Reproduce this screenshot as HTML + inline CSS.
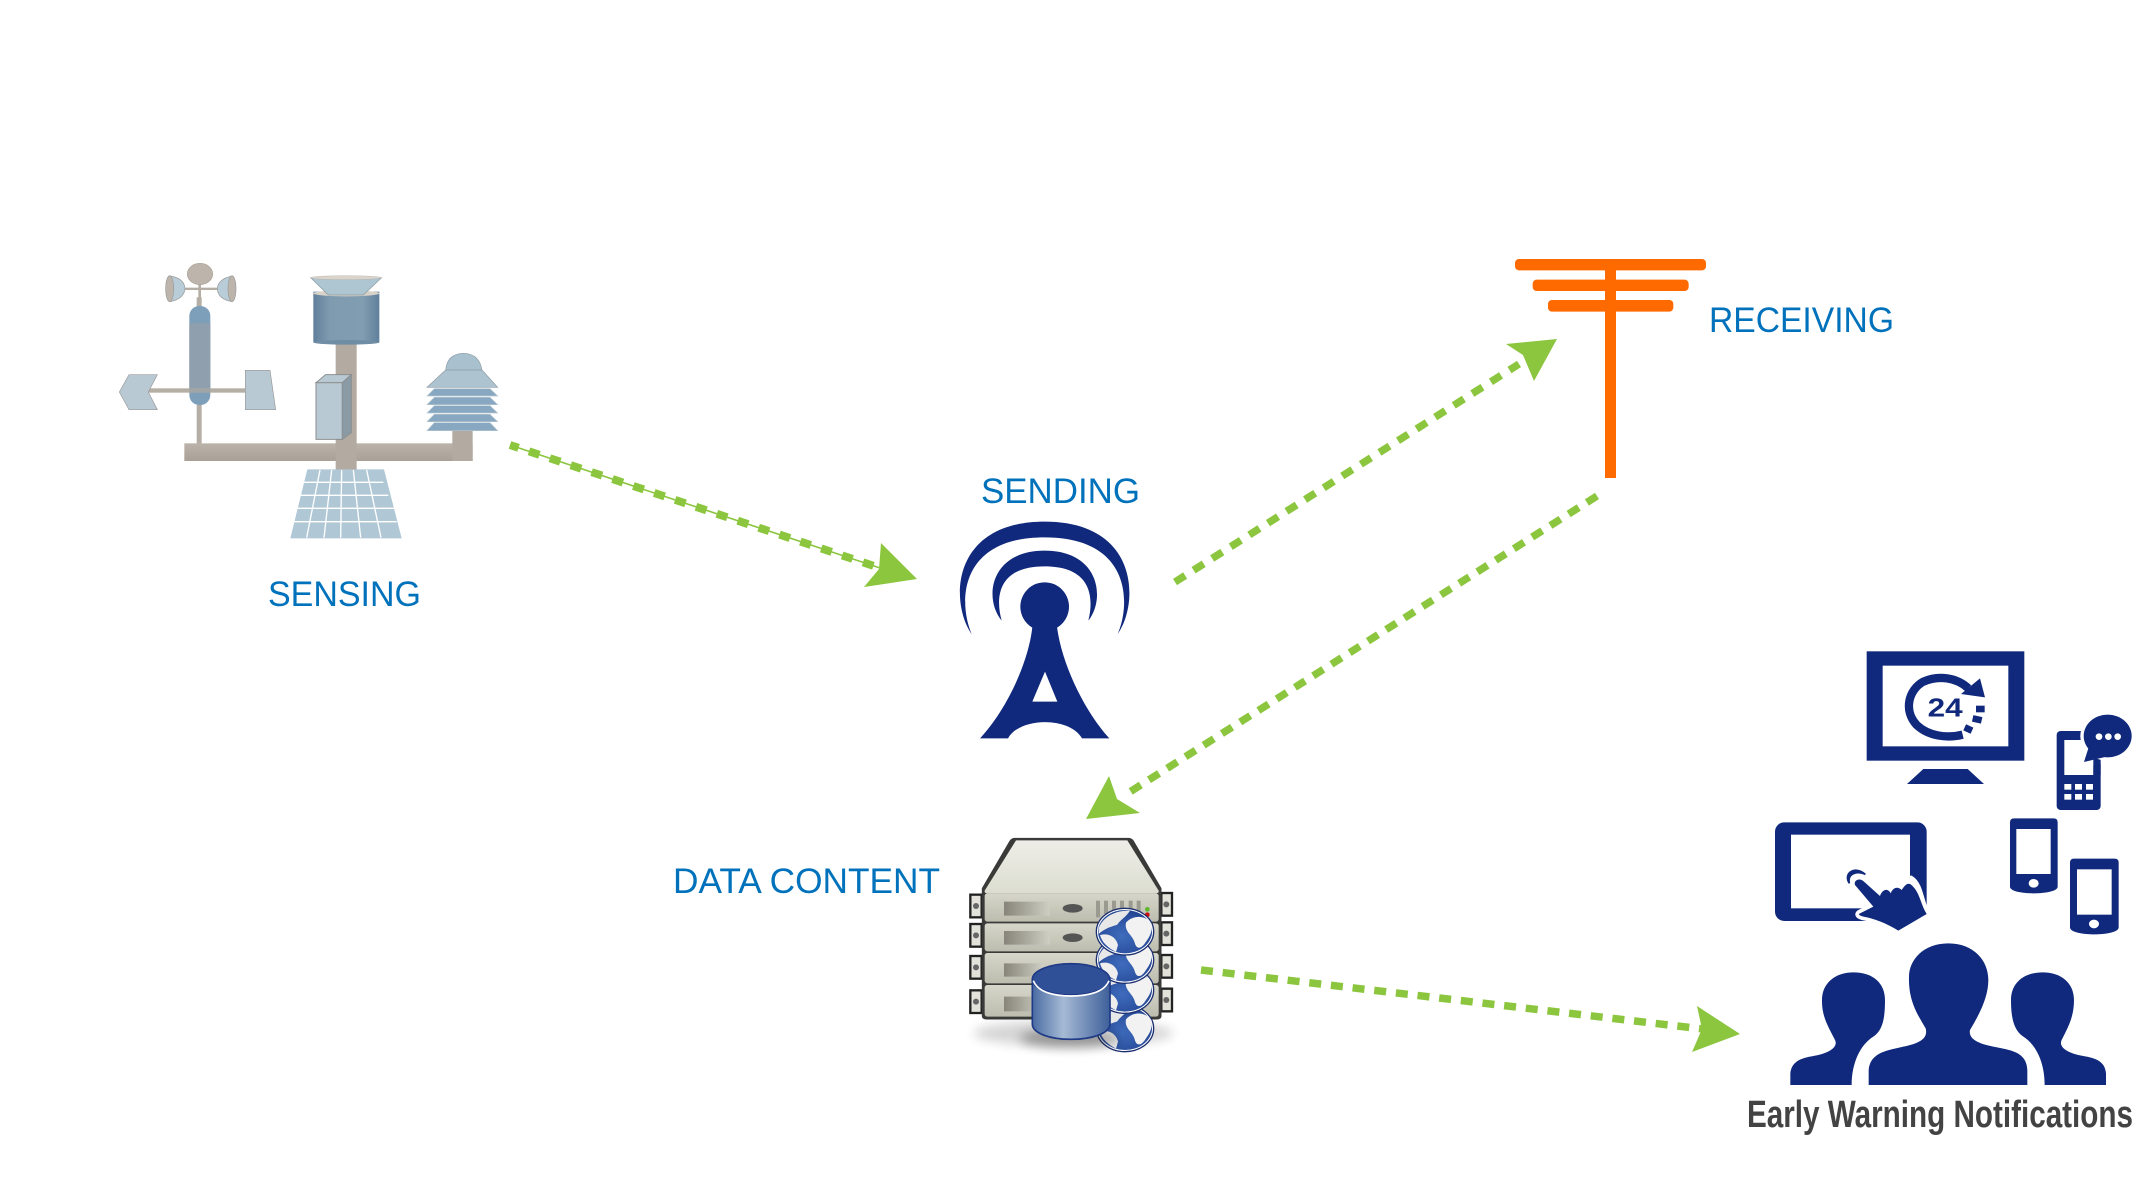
<!DOCTYPE html>
<html><head><meta charset="utf-8"><title>Early Warning System</title>
<style>html,body{margin:0;padding:0;background:#fff}svg{display:block}
.l{font-family:"Liberation Sans",sans-serif;fill:#0072bc;font-size:35.5px}</style></head>
<body>
<svg width="2150" height="1190" viewBox="0 0 2150 1190" xmlns="http://www.w3.org/2000/svg">
<defs>
<linearGradient id="gb" x1="0" x2="1" y1="0" y2="0"><stop offset="0" stop-color="#5f7f9b"/><stop offset=".25" stop-color="#7f9bb0"/><stop offset=".75" stop-color="#819db1"/><stop offset="1" stop-color="#5f7f9b"/></linearGradient>
<linearGradient id="gc" x1="0" x2="1" y1="0" y2="0"><stop offset="0" stop-color="#4a6ba3"/><stop offset=".4" stop-color="#a5bad4"/><stop offset="1" stop-color="#3e5f9a"/></linearGradient>
<linearGradient id="gs" x1="0" x2="0" y1="0" y2="1"><stop offset="0" stop-color="#eeeee8"/><stop offset="1" stop-color="#dcddd0"/></linearGradient>
<linearGradient id="gu" x1="0" x2="0" y1="0" y2="1"><stop offset="0" stop-color="#d6d6ca"/><stop offset="1" stop-color="#bcbcaf"/></linearGradient>
<linearGradient id="gl" x1="0" x2="1" y1="0" y2="0"><stop offset="0" stop-color="#87857a"/><stop offset="1" stop-color="#cfcfc4"/></linearGradient>
<linearGradient id="gp" x1="0" x2="0" y1="0" y2="1"><stop offset="0" stop-color="#bbb3aa"/><stop offset="1" stop-color="#a9a198"/></linearGradient>
<radialGradient id="gg" cx=".45" cy=".6" r=".7"><stop offset="0" stop-color="#3f6cbd"/><stop offset="1" stop-color="#1f3f8c"/></radialGradient>
<filter id="bl" x="-30%" y="-60%" width="160%" height="220%"><feGaussianBlur stdDeviation="16"/></filter>
<g id="globe">
<ellipse cx="495" cy="335" rx="86" ry="70" fill="#fff" stroke="#1b2f70" stroke-width="4"/>
<ellipse cx="495" cy="335" rx="81" ry="65" fill="url(#gg)"/>
<path d="M416,325C428,292 465,270 510,272C498,292 482,298 472,314C456,320 440,322 416,342Z" fill="#e8e8e8"/>
<path d="M420,345C445,338 468,350 474,375L468,396C445,384 426,368 420,345Z" fill="#eee"/>
<path d="M498,308C518,284 558,284 575,312C578,335 568,352 556,368C546,384 530,392 524,368C518,345 492,335 498,308Z" fill="#f2f2f2"/>
</g>
</defs>
<rect width="2150" height="1190" fill="#fff"/>

<!-- Sensing -->
<g transform="translate(100,240) scale(.33333)">
<rect x="290" y="495" width="15" height="120" fill="#b5aea5"/>
<rect x="253" y="610" width="865" height="53" fill="url(#gp)"/>
<rect x="1057" y="565" width="61" height="98" fill="#b3aba2"/>
<rect x="707" y="312" width="63" height="378" fill="#b3aba2"/>
<rect x="295" y="130" width="8" height="45" fill="#b5aea5"/>
<rect x="290" y="172" width="15" height="30" fill="#b5aea5"/>
<rect x="250" y="143" width="105" height="7" fill="#b5aea5"/>
<ellipse cx="300" cy="102" rx="38" ry="32" fill="#bdb5ab" stroke="#a8a096" stroke-width="2"/>
<path d="M210,108Q255,115 255,148Q250,178 210,185Z" fill="#b8cdd8" stroke="#999" stroke-width="2"/>
<ellipse cx="209" cy="146" rx="12" ry="39" fill="#bdb5ab" stroke="#999" stroke-width="2"/>
<path d="M396,108Q352,118 352,148Q355,178 396,185Z" fill="#b8cdd8" stroke="#999" stroke-width="2"/>
<ellipse cx="396" cy="146" rx="12" ry="39" fill="#bdb5ab" stroke="#999" stroke-width="2"/>
<rect x="268" y="198" width="63" height="297" rx="30" fill="#7d9fb9"/>
<rect x="268" y="250" width="63" height="195" fill="#8f9fad"/>
<rect x="145" y="445" width="292" height="13" fill="#b5aea5"/>
<rect x="268" y="445" width="63" height="13" fill="#a2a5a5"/>
<polygon points="58,456 87,404 172,404 145,456 172,509 87,509" fill="#b8c9d3" stroke="#999" stroke-width="2"/>
<polygon points="436,391 510,391 527,509 436,509" fill="#b8c9d3" stroke="#999" stroke-width="2"/>
<rect x="640" y="155" width="198" height="152" fill="url(#gb)"/>
<ellipse cx="739" cy="307" rx="99" ry="7" fill="#6f8ea6"/>
<ellipse cx="739" cy="160" rx="99" ry="9" fill="#d8d2c8"/>
<polygon points="632,113 845,113 790,165 685,165" fill="#aec6d2" stroke="#8c9aa3" stroke-width="2"/>
<ellipse cx="738" cy="113" rx="106" ry="6" fill="#dad4ca" stroke="#aaa" stroke-width="1"/>
<polygon points="648,428 727,428 727,598 648,598" fill="#b8c9d3" stroke="#8c8f90" stroke-width="3"/>
<polygon points="648,428 677,404 754,404 727,428" fill="#b8c9d3" stroke="#8c8f90" stroke-width="3"/>
<polygon points="727,428 754,404 754,578 727,598" fill="#8a9ba6" stroke="#8c8f90" stroke-width="3"/>
<path d="M1037,392Q1040,342 1090,340Q1140,342 1146,392Z" fill="#a9c0cf" stroke="#8c9aa3" stroke-width="2"/>
<polygon points="1037,390 1146,390 1193,442 981,442" fill="#aec3d0" stroke="#8c9aa3" stroke-width="2"/>
<g fill="#88a8c2" stroke="#b8c6cf" stroke-width="2">
<polygon points="1003,446 1170,446 1193,468 981,468"/>
<polygon points="1003,472 1170,472 1193,494 981,494"/>
<polygon points="1003,497 1170,497 1193,519 981,519"/>
<polygon points="1003,523 1170,523 1193,545 981,545"/>
<polygon points="1003,548 1170,548 1193,572 981,572"/>
</g>
<polygon points="622,688 852,688 905,895 571,895" fill="#b0c8d6"/>
<g stroke="#fff" stroke-width="4" fill="none">
<path d="M612,727H850M602,766H865M592,805H885M581,845H890"/>
<path d="M660,690L620,893M695,690L672,893M725,690L722,893M760,690L782,893M800,690L843,893"/>
</g>
</g>
<text class="l" x="268" y="606" textLength="153" lengthAdjust="spacingAndGlyphs">SENSING</text>

<!-- Sending -->
<text class="l" x="981" y="503" textLength="159" lengthAdjust="spacingAndGlyphs">SENDING</text>
<g transform="translate(940,460) scale(.33333)" fill="#10297d">
<path d="M95,522C30,430 30,185 314,185C598,185 598,430 533,522C573,430 573,232 314,232C55,232 55,430 95,522Z"/>
<path d="M185,482C130,415 150,272 314,272C478,272 498,415 445,482C463,410 453,319 314,319C175,319 165,410 185,482Z"/>
<circle cx="314" cy="440" r="73"/>
<path d="M278,490C270,600 200,750 120,835L204,835C240,770 390,770 426,835L508,835C430,750 360,600 350,490Z"/>
<polygon points="315,635 352,725 277,725" fill="#fff"/>
</g>

<!-- Receiving -->
<g transform="translate(1480,240) scale(.33333)" fill="#ff6a00">
<rect x="105" y="57" width="573" height="34" rx="12"/>
<rect x="158" y="119" width="468" height="34" rx="12"/>
<rect x="204" y="180" width="376" height="35" rx="12"/>
<rect x="375" y="57" width="33" height="657"/>
</g>
<text class="l" x="1709" y="332" textLength="185" lengthAdjust="spacingAndGlyphs">RECEIVING</text>

<!-- Data content -->
<text class="l" x="673" y="893" textLength="267" lengthAdjust="spacingAndGlyphs">DATA CONTENT</text>
<g transform="translate(960,820) scale(.33333)">
<ellipse cx="340" cy="640" rx="300" ry="40" fill="#000" opacity=".16" filter="url(#bl)"/>
<g fill="#e2e2da" stroke="#222" stroke-width="7">
<rect x="31" y="224" width="34" height="68"/><rect x="31" y="312" width="34" height="68"/><rect x="31" y="408" width="34" height="68"/><rect x="31" y="511" width="34" height="68"/>
<rect x="604" y="219" width="32" height="68"/><rect x="604" y="307" width="32" height="68"/><rect x="604" y="405" width="32" height="68"/><rect x="604" y="506" width="32" height="68"/>
</g>
<g fill="#666"><circle cx="48" cy="258" r="9"/><circle cx="48" cy="346" r="9"/><circle cx="48" cy="442" r="9"/><circle cx="48" cy="545" r="9"/><circle cx="619" cy="253" r="9"/><circle cx="619" cy="341" r="9"/><circle cx="619" cy="439" r="9"/><circle cx="619" cy="540" r="9"/></g>
<path d="M165,55L505,55Q515,55 520,63L603,205L603,588Q603,597 590,597L80,597Q67,597 67,588L67,205L150,63Q155,55 165,55Z" fill="#3a3a38" stroke="#3a3a38" stroke-width="3"/>
<path d="M168,61L502,61L596,212Q598,220 586,220L84,220Q72,220 74,212Z" fill="url(#gs)"/>
<rect x="74" y="220" width="522" height="85" rx="8" fill="url(#gu)"/>
<rect x="74" y="310" width="522" height="84" rx="8" fill="url(#gu)"/>
<rect x="74" y="399" width="522" height="91" rx="8" fill="url(#gu)"/>
<rect x="74" y="495" width="522" height="95" rx="8" fill="url(#gu)"/>
<polygon points="132,245 265,245 270,287 132,287" fill="url(#gl)"/>
<polygon points="132,333 270,333 270,374 132,374" fill="url(#gl)"/>
<polygon points="132,430 250,430 250,470 132,470" fill="url(#gl)"/>
<polygon points="132,530 250,530 250,574 132,574" fill="url(#gl)"/>
<ellipse cx="338" cy="265" rx="30" ry="13" fill="#555"/>
<ellipse cx="338" cy="353" rx="30" ry="13" fill="#555"/>
<g fill="#9a9a90"><rect x="408" y="242" width="12" height="50"/><rect x="432" y="242" width="12" height="40"/><rect x="456" y="242" width="12" height="30"/><rect x="480" y="242" width="12" height="25"/><rect x="506" y="242" width="12" height="25"/><rect x="530" y="242" width="12" height="30"/></g>
<circle cx="562" cy="268" r="7" fill="#5cb82e"/><circle cx="562" cy="284" r="7" fill="#d01010"/>
<use href="#globe" y="290"/>
<use href="#globe" y="175"/>
<use href="#globe" y="85"/>
<use href="#globe"/>
<ellipse cx="330" cy="655" rx="150" ry="28" fill="#000" opacity=".3" filter="url(#bl)"/>
<path d="M217,478V612C217,640 270,658 333,658C396,658 450,640 450,612V478Z" fill="url(#gc)" stroke="#1f3a86" stroke-width="5"/>
<ellipse cx="333" cy="478" rx="116" ry="47" fill="#2f4f96" stroke="#1f3a86" stroke-width="5"/>
<path d="M220,482C235,520 290,528 333,528C376,528 432,520 447,482" fill="none" stroke="#fff" stroke-width="5"/>
</g>

<!-- Devices -->
<g transform="translate(1760,640) scale(.33333)" fill="#10297d">
<rect x="320" y="34" width="473" height="328"/>
<rect x="368" y="77" width="377" height="242" fill="#fff"/>
<polygon points="490,387 623,387 672,432 441,432"/>
<path d="M608,284C560,296 505,288 470,255C430,212 445,150 490,125C535,105 590,112 625,145" fill="none" stroke="#10297d" stroke-width="25"/>
<polygon points="603,162 660,115 675,172"/>
<text x="503" y="229" font-family="Liberation Sans,sans-serif" font-weight="700" font-size="78" textLength="105" lengthAdjust="spacingAndGlyphs">24</text>
<g fill="none" stroke="#10297d" stroke-width="20"><path d="M648,207H674"/><path d="M638,235L665,241"/><path d="M614,262L636,272"/></g>
<rect x="890" y="273" width="132" height="237" rx="12"/>
<rect x="913" y="300" width="87" height="105" fill="#fff"/>
<ellipse cx="1043" cy="288" rx="82" ry="74" fill="#fff"/>
<polygon points="1000,378 1022,372 1022,405 1000,405"/>
<ellipse cx="1043" cy="288" rx="72" ry="64"/>
<polygon points="985,325 972,366 1040,350"/>
<g fill="#fff"><circle cx="1017" cy="290" r="10"/><circle cx="1045" cy="290" r="10"/><circle cx="1073" cy="290" r="10"/>
<rect x="913" y="432" width="21" height="17"/><rect x="945" y="432" width="21" height="17"/><rect x="978" y="432" width="21" height="17"/>
<rect x="913" y="462" width="21" height="17"/><rect x="945" y="462" width="21" height="17"/><rect x="978" y="462" width="21" height="17"/></g>
<path d="M762,535H881Q893,535 893,547V740C893,755 850,760 821,760C790,760 750,755 750,740V547Q750,535 762,535Z"/>
<rect x="769" y="567" width="103" height="135" fill="#fff"/><ellipse cx="821" cy="730" rx="15" ry="13" fill="#fff"/>
<path d="M942,656H1064Q1076,656 1076,668V862C1076,877 1035,883 1003,883C970,883 930,877 930,862V668Q930,656 942,656Z"/>
<rect x="951" y="688" width="104" height="136" fill="#fff"/><ellipse cx="1002" cy="852" rx="15" ry="13" fill="#fff"/>
<rect x="45" y="547" width="455" height="296" rx="28"/>
<rect x="93" y="584" width="357" height="221" fill="#fff"/>
<path d="M300,820L340,800L285,735C280,720 300,712 312,725L360,770C370,745 385,750 392,755C400,740 415,740 425,745C435,730 445,718 452,718C480,735 480,790 500,822L415,872C380,850 340,835 310,830C295,826 295,822 300,820Z" fill="#fff" stroke="#fff" stroke-width="22"/>
<path d="M300,820L340,800L285,735C280,720 300,712 312,725L360,768C368,745 385,745 392,760C400,740 415,740 425,750C435,735 442,728 452,733C480,755 480,790 500,822L415,872C380,850 340,835 310,830C295,826 295,822 300,820Z"/>
<path d="M268,730C248,700 285,675 316,703C290,692 262,700 268,730Z" stroke="#10297d" stroke-width="5"/>
</g>

<!-- People -->
<g transform="translate(1760,930) scale(.33333)" fill="#10297d">
<path d="M565,40C640,40 685,90 685,150C685,200 660,250 630,300C625,325 650,340 700,350C750,360 800,365 802,420V465H326V420C330,365 390,360 430,350C480,340 505,325 497,295C470,250 445,210 447,140C447,90 490,40 565,40Z"/>
<path d="M280,127C340,127 375,160 375,210C375,260 370,300 340,320C300,345 275,400 275,465H91V430C95,395 120,385 160,378C210,370 235,350 225,330C205,290 185,260 186,210C186,160 225,127 280,127Z"/>
<path d="M848,127C905,127 942,160 942,210C942,260 925,290 905,330C895,350 920,370 970,378C1010,385 1035,395 1038,430V465H854C854,400 830,345 790,320C760,300 753,260 753,210C753,160 790,127 848,127Z"/>
</g>
<text x="1747" y="1127" font-family="Liberation Sans,sans-serif" font-weight="700" font-size="38" fill="#434343" textLength="386" lengthAdjust="spacingAndGlyphs">Early Warning Notifications</text>

<!-- Arrows -->
<g fill="none" stroke="#8cc63f">
<line x1="510" y1="445" x2="880" y2="568" stroke-width="1.6"/>
<line x1="510" y1="445" x2="880" y2="568" stroke-width="8" stroke-dasharray="11 11" stroke-dashoffset="2"/>
<line x1="1175" y1="582" x2="1519" y2="364" stroke-width="7.5" stroke-dasharray="12 10"/>
<line x1="1597" y1="496" x2="1125" y2="795" stroke-width="7.5" stroke-dasharray="12 9.6"/>
<line x1="1201" y1="970" x2="1703" y2="1029" stroke-width="7.5" stroke-dasharray="12 9.8"/>
</g>
<g fill="#8cc63f">
<polygon points="881,543 917,579 864,587 879,569"/>
<polygon points="1557,339 1506,344 1523,355 1534,381"/>
<polygon points="1109,776 1117,799 1140,813 1086,819"/>
<polygon points="1697,1006 1740,1034 1692,1052 1702,1029"/>
</g>
</svg>
</body></html>
